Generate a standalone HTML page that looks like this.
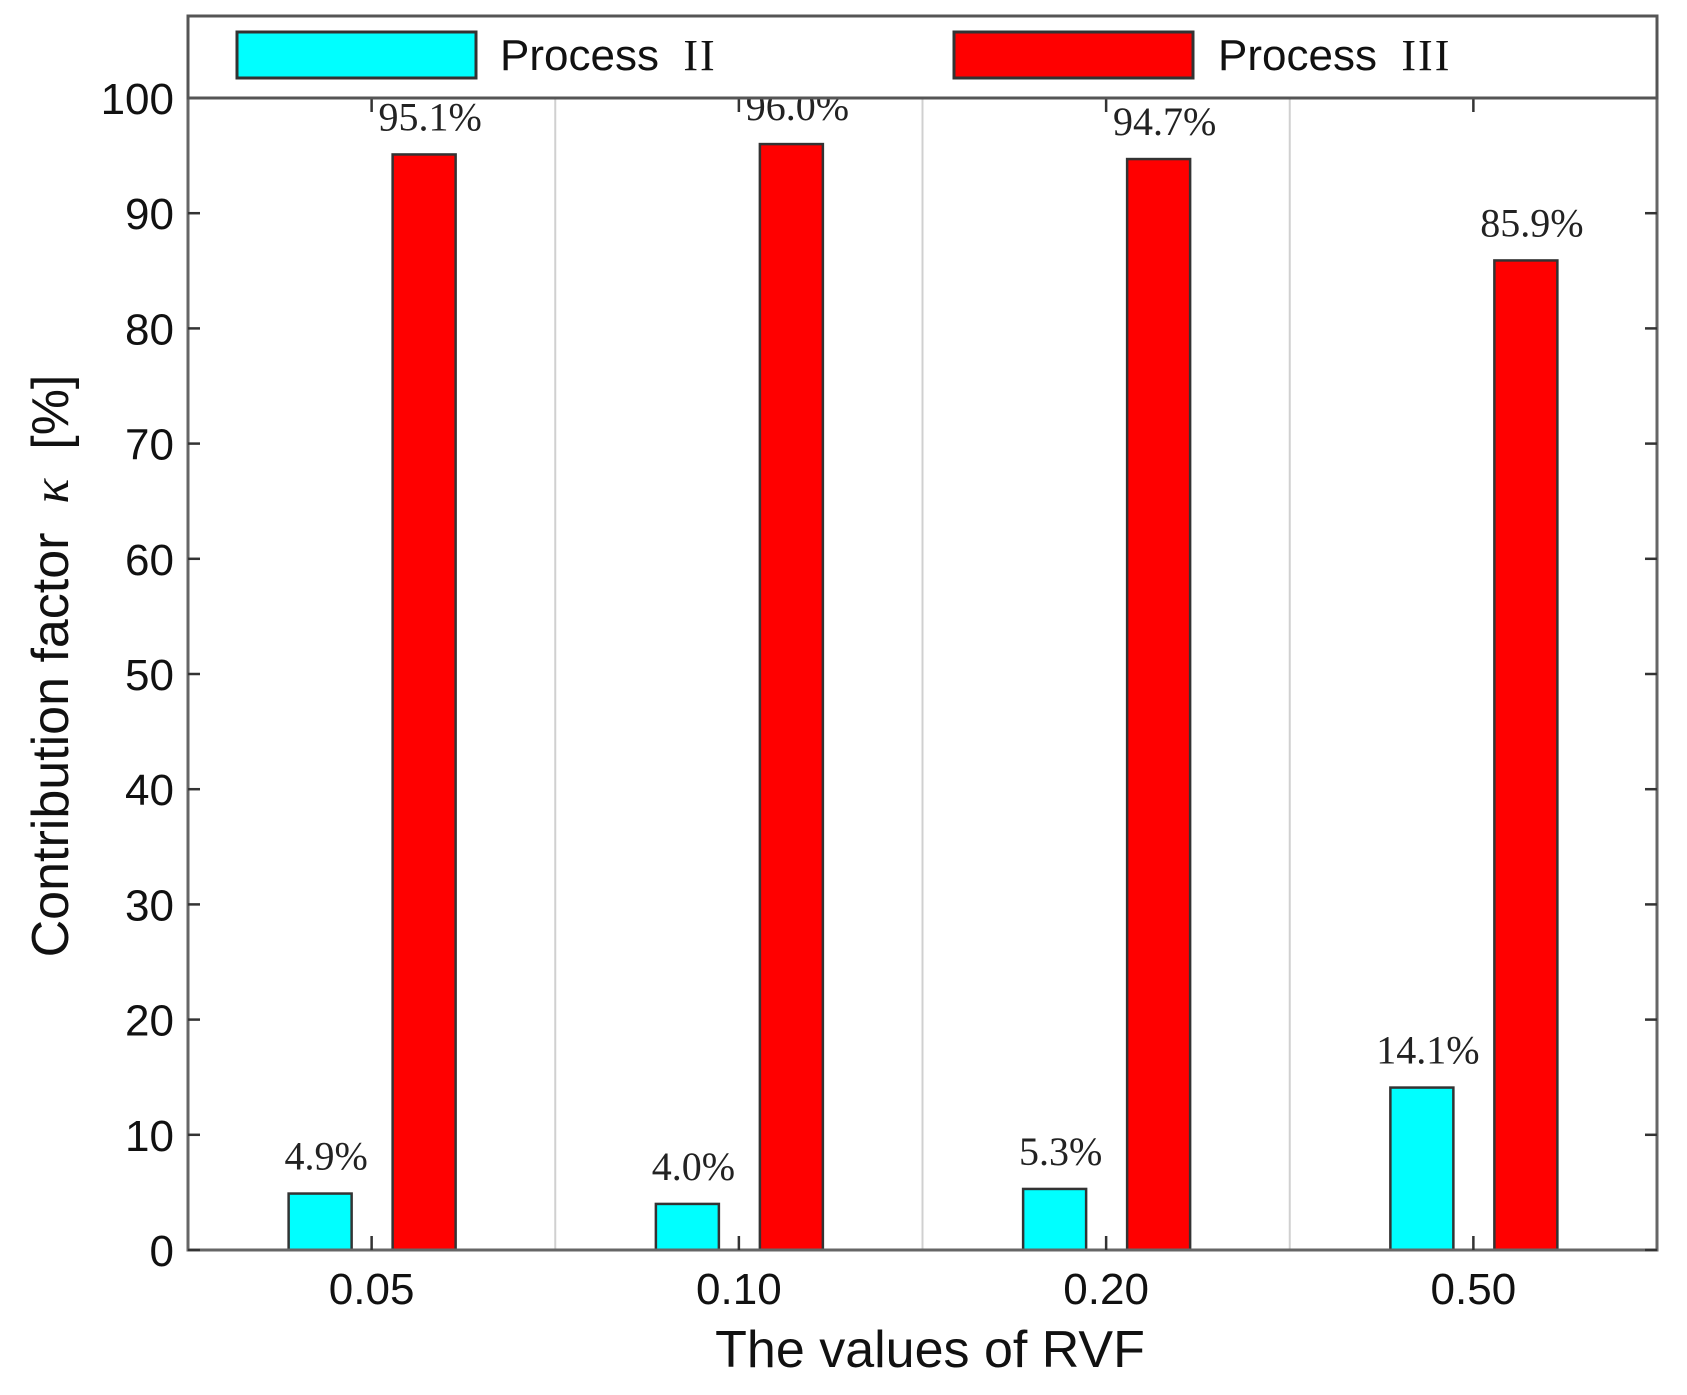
<!DOCTYPE html>
<html><head><meta charset="utf-8"><style>
html,body{margin:0;padding:0;background:#fff;}
svg{display:block;}
</style></head><body>
<svg id="chart" width="1687" height="1395" viewBox="0 0 1687 1395" xmlns="http://www.w3.org/2000/svg">
<g id="grid"></g>
<g id="bars"></g>
<g id="labels"></g>
<rect x="188" y="98" width="1469" height="1152" fill="none" stroke="#666" stroke-width="3"/>
<g id="ticks"></g>
<g id="legend">
  <rect x="188" y="16" width="1469" height="82" fill="#fff" stroke="#555" stroke-width="3"/>
  <rect x="237" y="32" width="239" height="46" fill="#00ffff" stroke="#333" stroke-width="3"/>
  <text x="500" y="70" font-family="Liberation Sans, sans-serif" font-size="44" fill="#111" xml:space="preserve">Process  <tspan font-family="Liberation Serif, serif" letter-spacing="2">II</tspan></text>
  <rect x="954" y="32" width="239" height="46" fill="#ff0000" stroke="#333" stroke-width="3"/>
  <text x="1218" y="70" font-family="Liberation Sans, sans-serif" font-size="44" fill="#111" xml:space="preserve">Process  <tspan font-family="Liberation Serif, serif" letter-spacing="2">III</tspan></text>
</g>
<text x="930" y="1367" text-anchor="middle" font-family="Liberation Sans, sans-serif" font-size="52" fill="#111">The values of RVF</text>
<text transform="translate(68,666) rotate(-90)" text-anchor="middle" font-family="Liberation Sans, sans-serif" font-size="52" fill="#111" xml:space="preserve">Contribution factor  <tspan font-family="Liberation Serif, serif" font-style="italic">κ</tspan>  [%]</text>
</svg>
<script>
const categories = ["0.05", "0.10", "0.20", "0.50"];
const processII = [4.9, 4.0, 5.3, 14.1];
const processIII = [95.1, 96.0, 94.7, 85.9];
const yTicks = [0, 10, 20, 30, 40, 50, 60, 70, 80, 90, 100];

const NS = "http://www.w3.org/2000/svg";
const X0 = 188, X1 = 1657, Y0 = 1250, Y1 = 98, YMAX = 100;
const groupW = (X1 - X0) / categories.length;
function xCenter(i) { return X0 + groupW * (i + 0.5); }
function yScale(v) { return Y0 - (v / YMAX) * (Y0 - Y1); }
function mk(tag, attrs, parent) {
  const el = document.createElementNS(NS, tag);
  for (const k in attrs) el.setAttribute(k, attrs[k]);
  parent.appendChild(el);
  return el;
}
const grid = document.getElementById('grid');
const bars = document.getElementById('bars');
const labels = document.getElementById('labels');
const ticks = document.getElementById('ticks');

for (let i = 1; i < categories.length; i++) {
  const x = X0 + groupW * i;
  const g = mk('line', {x1: x, x2: x, y1: Y1, y2: Y0, stroke: '#d0d0d0', 'stroke-width': 2}, grid);
  
  
}

const series = [
  {vals: processII, color: '#00ffff', off: -83, name: 'process-ii'},
  {vals: processIII, color: '#ff0000', off: 21, name: 'process-iii'}
];
const BW = 63;
series.forEach(s => {
  s.vals.forEach((v, i) => {
    const x = xCenter(i) + s.off;
    const y = yScale(v);
    const r = mk('rect', {x: x, y: y, width: BW, height: Y0 - y, fill: s.color, stroke: '#333', 'stroke-width': 2.5}, bars);
    
    
    const t = mk('text', {x: x + BW / 2 + 6, y: y - 24, 'text-anchor': 'middle', 'font-family': 'Liberation Serif, serif', 'font-size': 40, fill: '#222'}, labels);
    t.textContent = v.toFixed(1) + '%';
    
    
  });
});

yTicks.forEach(v => {
  const y = yScale(v);
  const a = mk('line', {x1: X0, x2: X0 + 12, y1: y, y2: y, stroke: '#333', 'stroke-width': 2.5}, ticks);
  
  
  const b = mk('line', {x1: X1 - 12, x2: X1, y1: y, y2: y, stroke: '#333', 'stroke-width': 2.5}, ticks);
  
  
  const t = mk('text', {x: 174, y: y + 16, 'text-anchor': 'end', 'font-family': 'Liberation Sans, sans-serif', 'font-size': 44, fill: '#111'}, ticks);
  t.textContent = v;
  
  
});

categories.forEach((c, i) => {
  const x = xCenter(i);
  const a = mk('line', {x1: x, x2: x, y1: Y0, y2: Y0 - 14, stroke: '#333', 'stroke-width': 2.5}, ticks);
  
  
  const b = mk('line', {x1: x, x2: x, y1: Y1, y2: Y1 + 14, stroke: '#333', 'stroke-width': 2.5}, ticks);
  
  
  const t = mk('text', {x: x, y: 1304, 'text-anchor': 'middle', 'font-family': 'Liberation Sans, sans-serif', 'font-size': 44, fill: '#111'}, ticks);
  t.textContent = c;
  
  
});
</script>
</body></html>
